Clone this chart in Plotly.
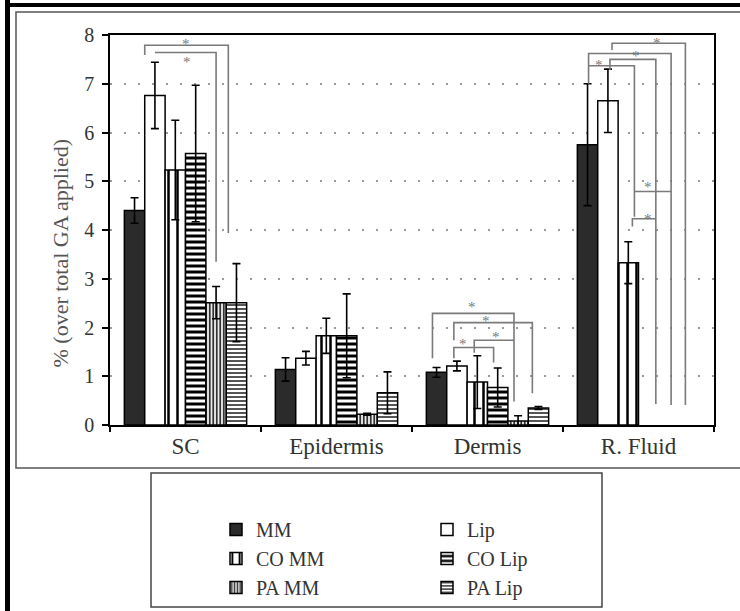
import plotly.graph_objects as go

# ---------------- data ----------------
categories = ["SC", "Epidermis", "Dermis", "R. Fluid"]
series_names = ["MM", "Lip", "CO MM", "CO Lip", "PA MM", "PA Lip"]

mm = [4.40, 1.14, 1.08, 5.75]
mm_err = [0.26, 0.24, 0.10, 1.25]
lip = [6.76, 1.37, 1.21, 6.65]
lip_err = [0.68, 0.14, 0.10, 0.65]
co_mm = [5.23, 1.83, 0.88, 3.33]
co_mm_err = [1.02, 0.36, 0.54, 0.43]
co_lip = [5.57, 1.83, 0.77, None]
co_lip_err = [1.40, 0.86, 0.40, 0]
pa_mm = [2.51, 0.22, 0.08, None]
pa_mm_err = [0.33, 0.02, 0.11, 0]
pa_lip = [2.51, 0.66, 0.35, None]
pa_lip_err = [0.80, 0.43, 0.03, 0]

y_ticks = [0, 1, 2, 3, 4, 5, 6, 7, 8]

# significance brackets: (category index, [(bar slot, value), ...])
brackets = [
    (0, [(0.5, 7.59), (0.5, 7.79), (4.6, 7.79), (4.6, 3.94)]),
    (0, [(1.0, 7.64), (4.0, 7.64), (4.0, 3.35)]),
    (2, [(-0.2, 1.37), (-0.2, 2.29), (3.8, 2.29), (3.8, 0.48)]),
    (2, [(0.85, 1.74), (0.85, 2.10), (4.7, 2.10), (4.7, 0.65)]),
    (2, [(0.85, 1.37), (0.85, 1.59), (2.8, 1.59), (2.8, 1.28)]),
    (2, [(1.85, 1.48), (1.85, 1.74), (3.8, 1.74)]),
    (3, [(1.2, 7.69), (1.2, 7.83), (4.8, 7.83), (4.8, 0.41)]),
    (3, [(0.05, 7.00), (0.05, 7.62), (4.1, 7.62), (4.1, 0.41)]),
    (3, [(1.1, 7.28), (1.1, 7.50), (3.35, 7.50), (3.35, 0.43)]),
    (3, [(0.05, 7.37), (2.3, 7.37), (2.3, 4.27)]),
    (3, [(2.3, 4.79), (4.1, 4.79)]),
    (3, [(2.2, 4.07), (2.2, 4.23), (3.35, 4.23)]),
]
stars = [
    (0, 2.5, 7.82), (0, 2.55, 7.44),
    (2, 1.75, 2.42), (2, 2.45, 2.14), (2, 1.3, 1.66), (2, 2.9, 1.81),
    (3, 3.4, 7.84), (3, 2.4, 7.57), (3, 0.55, 7.39), (3, 2.95, 4.88), (3, 2.95, 4.23),
]

# ---------------- layout constants ----------------
W, H = 740, 611
L, R, T, B = 110, 26, 35, 186
PW, PH = W - L - R, H - T - B
BARGAP = 0.19
NBARS = 6
SERIF = "Liberation Serif"


def px(x):
    return (x - L) / PW


def py(y):
    return (H - B - y) / PH


def bar_x(cat, slot):
    grp = 1 - BARGAP
    return cat - grp / 2 + (slot + 0.5) * grp / NBARS


xpos = list(range(len(categories)))

styles = {
    "MM": dict(color="#2b2b2b"),
    "Lip": dict(color="white"),
    "CO MM": dict(color="white", pattern=dict(shape="|", fgcolor="black", bgcolor="white",
                                               size=9, solidity=0.28, fillmode="replace")),
    "CO Lip": dict(color="white", pattern=dict(shape="-", fgcolor="black", bgcolor="white",
                                                size=6, solidity=0.5, fillmode="replace")),
    "PA MM": dict(color="white", pattern=dict(shape="|", fgcolor="#333333", bgcolor="white",
                                               size=3.5, solidity=0.55, fillmode="replace")),
    "PA Lip": dict(color="white", pattern=dict(shape="-", fgcolor="#555555", bgcolor="white",
                                                size=4, solidity=0.5, fillmode="replace")),
}
values = {"MM": (mm, mm_err), "Lip": (lip, lip_err), "CO MM": (co_mm, co_mm_err),
          "CO Lip": (co_lip, co_lip_err), "PA MM": (pa_mm, pa_mm_err), "PA Lip": (pa_lip, pa_lip_err)}
legend_of = {"MM": "legend", "CO MM": "legend", "PA MM": "legend",
             "Lip": "legend2", "CO Lip": "legend2", "PA Lip": "legend2"}

fig = go.Figure()
for name in series_names:
    v, e = values[name]
    st = styles[name]
    marker = dict(color=st["color"], line=dict(color="black", width=1.5))
    if "pattern" in st:
        marker["pattern"] = st["pattern"]
    fig.add_trace(go.Bar(
        x=xpos, y=v, name=name, marker=marker, legend=legend_of[name],
        error_y=dict(type="data", array=e, visible=True, color="black", thickness=1.6, width=4),
    ))

for cat, pts in brackets:
    fig.add_trace(go.Scatter(
        x=[bar_x(cat, s) for s, _ in pts], y=[val for _, val in pts],
        mode="lines", line=dict(color="#7a7a7a", width=1.6),
        showlegend=False, hoverinfo="skip",
    ))

annotations = []
for cat, s, val in stars:
    annotations.append(dict(x=bar_x(cat, s), y=val, xref="x", yref="y", text="*",
                            showarrow=False, font=dict(family=SERIF, size=15, color="#777777")))

annotations.append(dict(x=px(45), y=py(253), xref="paper", yref="paper",
                        text="% (over total GA applied)", textangle=-90, showarrow=False,
                        font=dict(family=SERIF, size=22, color="#555555")))

shapes = [
    dict(type="rect", xref="paper", yref="paper", x0=px(5), x1=px(10), y0=py(611), y1=py(0),
         fillcolor="black", line=dict(width=0)),
    dict(type="rect", xref="paper", yref="paper", x0=px(5), x1=px(740), y0=py(7), y1=py(3),
         fillcolor="black", line=dict(width=0)),
    dict(type="rect", xref="paper", yref="paper", x0=px(16), x1=px(748), y0=py(468), y1=py(12),
         line=dict(color="#555555", width=1.5)),
    dict(type="rect", xref="paper", yref="paper", x0=px(151), x1=px(602), y0=py(607), y1=py(473),
         line=dict(color="#444444", width=1.5)),
]

fig.update_layout(
    width=W, height=H,
    margin=dict(l=L, r=R, t=T, b=B, autoexpand=False),
    paper_bgcolor="white", plot_bgcolor="white",
    barmode="group", bargap=BARGAP, bargroupgap=0,
    font=dict(family=SERIF, color="#333333"),
    annotations=annotations, shapes=shapes,
    legend=dict(x=px(216), y=py(510), xanchor="left", yanchor="top",
                font=dict(family=SERIF, size=20, color="#333333"),
                bgcolor="rgba(0,0,0,0)", traceorder="normal"),
    legend2=dict(x=px(427), y=py(510), xanchor="left", yanchor="top",
                 font=dict(family=SERIF, size=20, color="#333333"),
                 bgcolor="rgba(0,0,0,0)", traceorder="normal"),
    xaxis=dict(range=[-0.5, 3.5], tickmode="array", tickvals=xpos, ticktext=categories,
               ticks="", showline=True, linecolor="black", linewidth=1.5, mirror=True,
               showgrid=False, zeroline=False,
               tickfont=dict(family=SERIF, size=23, color="#333333"),
               minor=dict(tickmode="array", tickvals=[-0.5, 0.5, 1.5, 2.5, 3.5],
                          ticks="outside", ticklen=5, tickcolor="black", tickwidth=1.5,
                          showgrid=False)),
    yaxis=dict(range=[0, 8], tickmode="array", tickvals=y_ticks,
               ticks="outside", ticklen=6, tickcolor="black", tickwidth=1.5,
               ticklabelstandoff=4,
               showline=True, linecolor="black", linewidth=1.5, mirror=True,
               showgrid=True, gridcolor="#9a9a9a", gridwidth=1.5, griddash="2px,12px",
               zeroline=False,
               tickfont=dict(family=SERIF, size=20, color="#333333")),
)

fig.write_html("out.html", config={"displayModeBar": False},
               post_script="document.body.style.margin='0px';")
